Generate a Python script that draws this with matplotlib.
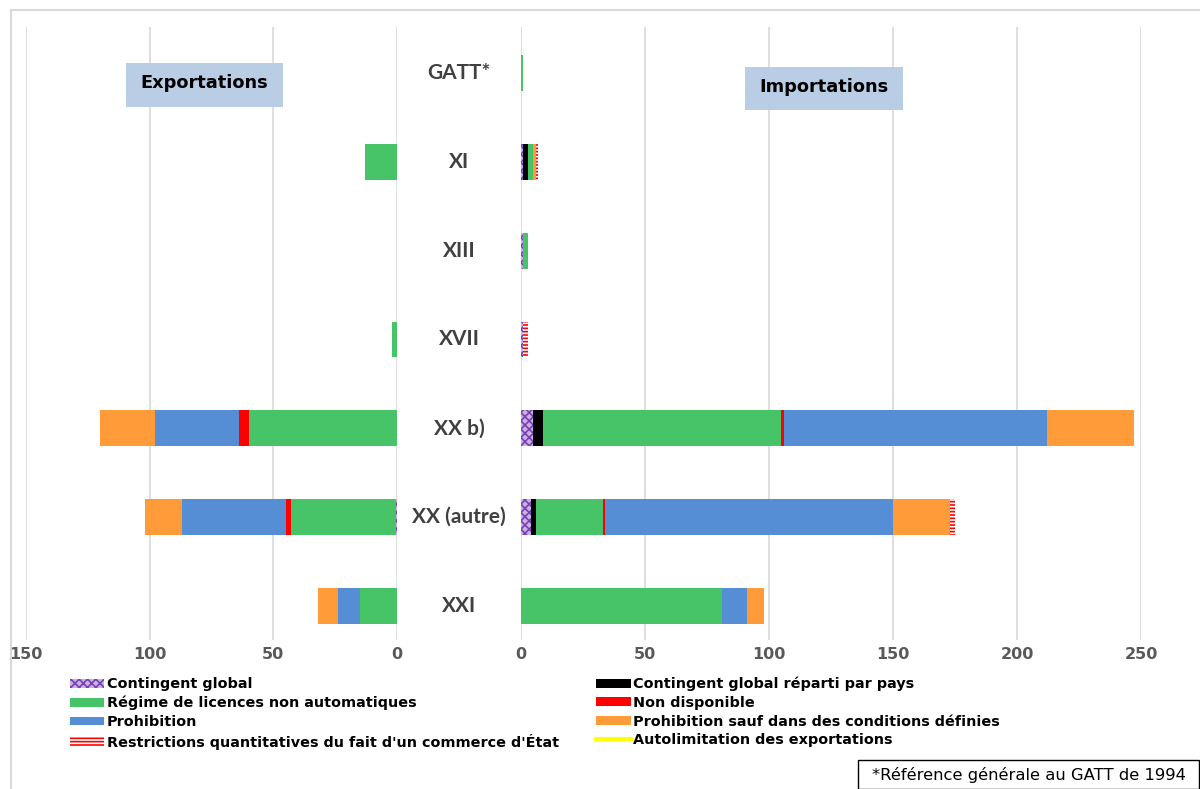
import numpy as np
import matplotlib
matplotlib.use('Agg')
import matplotlib.pyplot as plt
from matplotlib.patches import Patch, Rectangle
from matplotlib.lines import Line2D
from matplotlib import transforms

# categories (articles)
categories = ['GATT*', 'XI', 'XIII', 'XVII', 'XX b)', 'XX (autre)', 'XXI']

series_names = ['Contingent global',
                'Contingent global réparti par pays',
                'Régime de licences non automatiques',
                'Non disponible',
                'Prohibition',
                'Prohibition sauf dans des conditions définies',
                "Restrictions quantitatives du fait d'un commerce d'État",
                'Autolimitation des exportations']

# exportations
exp_contingent = [0, 0, 0, 0, 0, 0.5, 0]
exp_contingent_pays = [0, 0, 0, 0, 0, 0, 0]
exp_licences = [0, 13, 0, 2, 60, 42.5, 15]
exp_non_dispo = [0, 0, 0, 0, 4, 2, 0]
exp_prohibition = [0, 0, 0, 0, 34, 42, 9]
exp_prohib_sauf = [0, 0, 0, 0, 22, 15, 8]
exp_commerce_etat = [0, 0, 0, 0, 0, 0, 0]
exp_autolimitation = [0, 0, 0, 0, 0, 0, 0]

# importations
imp_contingent = [0, 1, 1, 1, 5, 4, 0]
imp_contingent_pays = [0, 2, 0, 0, 4, 2, 0]
imp_licences = [1, 2, 2, 0, 96, 27, 81]
imp_non_dispo = [0, 0, 0, 0, 1, 1, 0]
imp_prohibition = [0, 0, 0, 0, 106, 116, 10]
imp_prohib_sauf = [0, 1, 0, 0, 35, 23, 7]
imp_commerce_etat = [0, 1, 0, 2, 0, 2, 0]
imp_autolimitation = [0, 0, 0, 0, 0, 0, 0]

exports = [exp_contingent, exp_contingent_pays, exp_licences, exp_non_dispo,
           exp_prohibition, exp_prohib_sauf, exp_commerce_etat, exp_autolimitation]
imports = [imp_contingent, imp_contingent_pays, imp_licences, imp_non_dispo,
           imp_prohibition, imp_prohib_sauf, imp_commerce_etat, imp_autolimitation]

# style per series: facecolor, edgecolor (hatch colour), hatch
styles = [dict(facecolor='#C8B2E2', edgecolor='#7A3FB5', hatch='xxxx', linewidth=0),
          dict(facecolor='#000000', edgecolor='none'),
          dict(facecolor='#48C468', edgecolor='none'),
          dict(facecolor='#FF0000', edgecolor='none'),
          dict(facecolor='#558ED5', edgecolor='none'),
          dict(facecolor='#FF9B38', edgecolor='none'),
          dict(facecolor='#FFFFFF', edgecolor='#FF0000', hatch='-----', linewidth=0),
          dict(facecolor='#FFFF00', edgecolor='none')]

plt.rcParams['hatch.linewidth'] = 1.2

fig = plt.figure(figsize=(12, 7.89), dpi=100)
W, H = 1200, 789

def fx(px):
    return px / W

def fy(py):
    return 1 - py / H

ax_l = fig.add_axes([fx(26), fy(640), fx(397 - 26), fy(27) - fy(640)])
ax_r = fig.add_axes([fx(521), fy(640), fx(1141 - 521), fy(27) - fy(640)])

y = np.arange(len(categories))
bar_h = 0.405

for ax, data in ((ax_l, exports), (ax_r, imports)):
    left = np.zeros(len(categories))
    for vals, st in zip(data, styles):
        vals = np.array(vals, dtype=float)
        ax.barh(y, vals, left=left, height=bar_h, zorder=3, **st)
        left += vals
    ax.set_ylim(6.383, -0.518)
    ax.set_yticks([])
    for s in ax.spines.values():
        s.set_visible(False)
    ax.grid(axis='x', color='#D9D9D9', linewidth=1.2, zorder=0)
    ax.tick_params(axis='x', length=0, pad=5, labelsize=11.5, labelcolor='#595959')

ax_l.set_xlim(150, 0)
ax_l.set_xticks([150, 100, 50, 0])
ax_r.set_xlim(0, 250)
ax_r.set_xticks([0, 50, 100, 150, 200, 250])
for ax in (ax_l, ax_r):
    for lab in ax.get_xticklabels():
        lab.set_fontweight('bold')

# category names in the gap between both sides
tr = transforms.blended_transform_factory(fig.transFigure, ax_l.transData)
for i, c in enumerate(categories):
    fig.text(fx(459), i, c, transform=tr, ha='center', va='center',
             fontsize=15, fontweight='bold', color='#404040', family='Lato')

# side headers
for (x0, y0, x1, y1, txt) in [(126, 63, 283, 107, 'Exportations'),
                              (745, 67, 903, 110, 'Importations')]:
    fig.patches.append(Rectangle((fx(x0), fy(y1)), fx(x1 - x0), fy(y0) - fy(y1),
                                 transform=fig.transFigure, facecolor='#B9CDE5',
                                 edgecolor='none', zorder=5))
    fig.text(fx((x0 + x1) / 2), fy((y0 + y1) / 2 - 2), txt, ha='center', va='center',
             fontsize=12.8, fontweight='bold', color='#000000', zorder=6)

# chart area border
fig.add_artist(Line2D([fx(11), 1], [fy(10), fy(10)], transform=fig.transFigure,
                      color='#D9D9D9', linewidth=1.5))
fig.add_artist(Line2D([fx(11), fx(11)], [fy(10), 0], transform=fig.transFigure,
                      color='#D9D9D9', linewidth=1.5))

# legend
handles = []
for name, st in zip(series_names, styles):
    if name.startswith('Autolimitation'):
        handles.append(Line2D([], [], color='#FFFF00', linewidth=3))
    else:
        handles.append(Patch(label=name, **st))
order = [0, 2, 4, 6, 1, 3, 5, 7]
leg = fig.legend([handles[k] for k in order], [series_names[k] for k in order],
                 ncol=2, loc='upper left', bbox_to_anchor=(fx(64), fy(671)),
                 frameon=False, handlelength=2.4, handleheight=0.55, handletextpad=0.15,
                 columnspacing=2.6, labelspacing=0.32, borderaxespad=0,
                 prop=dict(size=10.4, weight='bold'))

# footnote
fig.patches.append(Rectangle((fx(858), 0), fx(1199 - 858), fy(760),
                             transform=fig.transFigure, facecolor='white',
                             edgecolor='#000000', linewidth=1))
fig.text(fx(872), fy(775), '*Référence générale au GATT de 1994', ha='left',
         va='center', fontsize=11.8, color='#000000')

fig.savefig('out.png', dpi=100)
